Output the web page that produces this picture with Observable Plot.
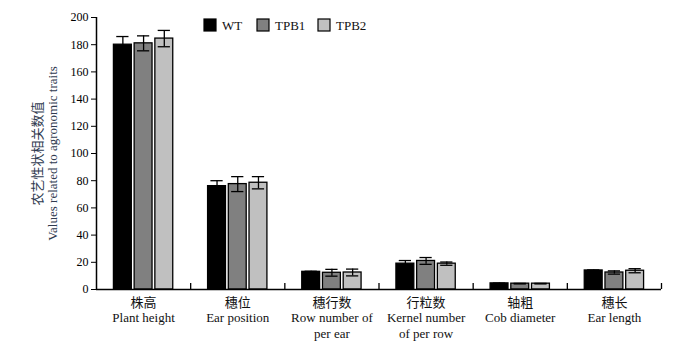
<!DOCTYPE html>
<html>
<head>
<meta charset="utf-8">
<script src="https://cdn.jsdelivr.net/npm/d3@7"></script>
<script src="https://cdn.jsdelivr.net/npm/@observablehq/plot@0.6"></script>
<style>
  body { margin: 0; background: #fff; }
  #chart svg { font-family: "Liberation Serif", "Noto Sans CJK SC", serif; }
</style>
</head>
<body>
<div id="chart"></div>
<script>
// ---- data ----
const categories = ["株高\nPlant height", "穗位\nEar position", "穗行数\nRow number of\nper ear", "行粒数\nKernel number\nof per row", "轴粗\nCob diameter", "穗长\nEar length"];
const series = ["WT", "TPB1", "TPB2"];
const wtValues   = [180, 76, 13, 19, 4.5, 14];
const tpb1Values = [181, 77.5, 12.3, 21, 4.3, 12.5];
const tpb2Values = [184.5, 78.5, 12.5, 19, 4.3, 13.8];
const wtErr   = [6, 4, 0.4, 2.3, 0.2, 0.4];
const tpb1Err = [5.5, 5.5, 2.5, 2.5, 0.2, 1.2];
const tpb2Err = [6, 4.5, 2.5, 1.2, 0.2, 1.5];
const seriesColors = ["#000000", "#808080", "#c0c0c0"];
const yTicks = [0, 20, 40, 60, 80, 100, 120, 140, 160, 180, 200];
const yLabelZh = "农艺性状相关数值";
const yLabelEn = "Values related to agronomic traits";

// ---- layout (style only) ----
const groupOffset = 0.22; // spacing between bars within a category, in category units
const barHalf = 0.095;
const capHalf = 0.065;

const valuesBySeries = [wtValues, tpb1Values, tpb2Values];
const errBySeries = [wtErr, tpb1Err, tpb2Err];
const table = [];
categories.forEach((c, i) => {
  series.forEach((s, j) => {
    const center = i + 0.5 + (j - 1) * groupOffset;
    table.push({cat: c, series: s, v: valuesBySeries[j][i], e: errBySeries[j][i], xc: center, x1: center - barHalf, x2: center + barHalf});
  });
});
const catTable = categories.map((c, i) => ({label: c, x: i + 0.5}));
const bounds = d3.range(1, categories.length + 1);

const plot = Plot.plot({
  width: 700,
  height: 351,
  marginLeft: 96,
  marginRight: 39,
  marginTop: 17,
  marginBottom: 62,
  style: {fontSize: "12px", fontFamily: "'Liberation Serif', 'Noto Sans CJK SC', serif", color: "#000", background: "#fff"},
  x: {domain: [0, categories.length], axis: null},
  y: {domain: [0, 200], ticks: yTicks, tickSize: 5, tickPadding: 3, label: null},
  color: {domain: series, range: seriesColors},
  marks: [
    Plot.rectY(table, {x1: "x1", x2: "x2", y1: 0, y2: "v", fill: "series", stroke: "#000", strokeWidth: 1.3}),
    Plot.ruleX(table, {x: "xc", y1: d => d.v - d.e, y2: d => d.v + d.e, stroke: "#000", strokeWidth: 1.3}),
    Plot.ruleY(table, {y: d => d.v + d.e, x1: d => d.xc - capHalf, x2: d => d.xc + capHalf, stroke: "#000", strokeWidth: 1.3}),
    Plot.ruleY(table, {y: d => d.v - d.e, x1: d => d.xc - capHalf, x2: d => d.xc + capHalf, stroke: "#000", strokeWidth: 1.3}),
    Plot.ruleY([0], {stroke: "#000", strokeWidth: 1.5}),
    Plot.ruleX([0], {stroke: "#000", strokeWidth: 1.5}),
    Plot.ruleX(bounds, {y1: 0, y2: 0, insetTop: -6, stroke: "#000", strokeWidth: 1.3}),
    Plot.text(catTable, {x: "x", y: 0, text: "label", dy: 6, lineAnchor: "top", lineHeight: 1.2, fontSize: 13, fill: "#111"}),
    Plot.text([yLabelZh], {text: d => d, frameAnchor: "left", textAnchor: "middle", rotate: -90, dx: -59, fontSize: 13, fill: "#2f3a4f"}),
    Plot.text([yLabelEn], {text: d => d, frameAnchor: "left", textAnchor: "middle", rotate: -90, dx: -44, fontSize: 13, fill: "#2f3a4f"})
  ]
});

// legend drawn inside the svg
const svg = d3.select(plot);
const legendItems = [{x: 204, label: "WT"}, {x: 257, label: "TPB1"}, {x: 318, label: "TPB2"}];
const lg = svg.append("g").attr("text-anchor", "start");
legendItems.forEach((it, j) => {
  lg.append("rect").attr("x", it.x).attr("y", 19).attr("width", 12).attr("height", 12)
    .attr("fill", seriesColors[j]).attr("stroke", "#000").attr("stroke-width", 1.2);
  lg.append("text").attr("x", it.x + 18).attr("y", 30).attr("font-size", 13)
    .attr("text-anchor", "start").attr("fill", "#111").text(series[j]);
});

document.getElementById("chart").appendChild(plot);
</script>
</body>
</html>
